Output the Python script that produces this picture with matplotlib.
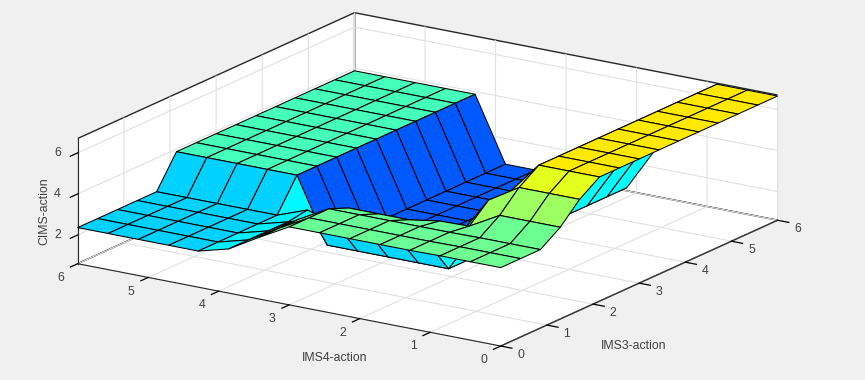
import matplotlib
matplotlib.use('Agg')
import matplotlib.pyplot as plt
from matplotlib.colors import LinearSegmentedColormap
from mpl_toolkits.mplot3d import proj3d
import numpy as np

plt.rcParams['font.family'] = ['Liberation Sans', 'DejaVu Sans']

# Data
ims3_grid = [0, 0.43, 0.86, 1.29, 1.71, 2.14, 2.57, 3, 3.43, 3.86, 4.29, 4.71, 5.14, 5.57, 6]
ims4_grid = [0, 0.43, 0.86, 1.29, 1.71, 2.14, 2.57, 3, 3.43, 3.86, 4.29, 4.71, 5.14, 5.57, 6]

# one row per IMS4 step, one column per IMS3 step
rows_high = [4.42, 4.42, 4.42, 5.07, 6.0] + [6.65] * 10
row_3 = [4.4, 4.4, 4.4, 4.26, 5.1] + [5.0] * 10
row_4 = [4.4, 4.4, 4.4, 4.23, 3.1] + [3.0] * 10
rows_mid = [4.4, 4.4, 4.4, 4.0, 2.4] + [0.75] * 10
row_8 = [3.6, 3.6, 3.6, 3.0, 2.4] + [0.75] * 10
row_9 = [2.75, 2.75, 2.75, 2.75, 2.9] + [0.75] * 10
rows_plateau = [2.36] * 5 + [3.87] * 10

cims = np.array([rows_high, rows_high, rows_high, row_3, row_4,
                 rows_mid, rows_mid, rows_mid, row_8, row_9,
                 rows_plateau, rows_plateau, rows_plateau, rows_plateau, rows_plateau])

x_ticks = [0, 1, 2, 3, 4, 5, 6]
y_ticks = [0, 1, 2, 3, 4, 5, 6]
z_ticks = [2, 4, 6]

X, Y = np.meshgrid(ims3_grid, ims4_grid)

fig = plt.figure(figsize=(8.65, 3.8), dpi=100, facecolor='#f0f0f0')
ax = fig.add_axes([-10 / 865, 5.5 / 380, 1, 1], projection='3d', proj_type='ortho', facecolor='#f0f0f0')
ax.patch.set_visible(False)
ax.view_init(elev=17.3, azim=-146.8)
ax.set_box_aspect((505, 505, 131), zoom=1.857)

# MATLAB's jet, not matplotlib's
jet = LinearSegmentedColormap.from_list('matlab_jet', [
    (0, (0, 0, 0.5)), (0.125, (0, 0, 1)), (0.375, (0, 1, 1)),
    (0.625, (1, 1, 0)), (0.875, (1, 0, 0)), (1, (0.5, 0, 0))], N=256)
norm = plt.Normalize(-2.16, 11.5)
surf = ax.plot_surface(X, Y, cims, facecolors=jet(norm(cims)), rstride=1, cstride=1, shade=False,
                       edgecolor='black', linewidth=0.75, antialiased=True)
surf.set_clip_on(False)

ax.set_xlim(0, 6, view_margin=0)
ax.set_ylim(0, 6, view_margin=0)
ax.set_zlim(0.6, 6.7, view_margin=0)
ax.set_xticks(x_ticks)
ax.set_yticks(y_ticks)
ax.set_zticks(z_ticks)
ax.set_xticklabels([])
ax.set_yticklabels([])
ax.set_zticklabels([])

for axis in (ax.xaxis, ax.yaxis, ax.zaxis):
    axis.set_pane_color('white')
    axis.pane.set_edgecolor('#262626')
    axis.pane.set_linewidth(1.0)
    axis._axinfo['grid']['color'] = '#e0e0e0'
    axis._axinfo['grid']['linewidth'] = 0.8
    axis._axinfo['tick']['inward_factor'] = 0.33
    axis._axinfo['tick']['outward_factor'] = 0.0
    axis._axinfo['tick']['linewidth'] = {True: 0.9, False: 0.5}
    axis._axinfo['tick']['color'] = '#262626'
    axis.line.set_color('#262626')


# Tick labels and axis titles sit where MATLAB put them
def label_at(x, y, z, s, rotation=0):
    px, py, _ = proj3d.proj_transform(x, y, z, ax.get_proj())
    ax.text2D(px, py, s, transform=ax.transData, fontsize=8.8, color='#404040',
              ha='center', va='center', rotation=rotation, clip_on=False)


for t in x_ticks:
    label_at(t, -0.284, 0.35, str(t))
for t in y_ticks:
    label_at(-0.368, t, 0.29, str(t))
for t in z_ticks:
    label_at(-0.13, 6.2, t, str(t))
label_at(2.87, 0, -2.33, 'IMS3-action')
label_at(0, 2.36, -1.56, 'IMS4-action')
label_at(-0.215, 6.33, 3.14, 'CIMS-action', rotation=90)

fig.savefig('out.png', dpi=100, facecolor=fig.get_facecolor())
